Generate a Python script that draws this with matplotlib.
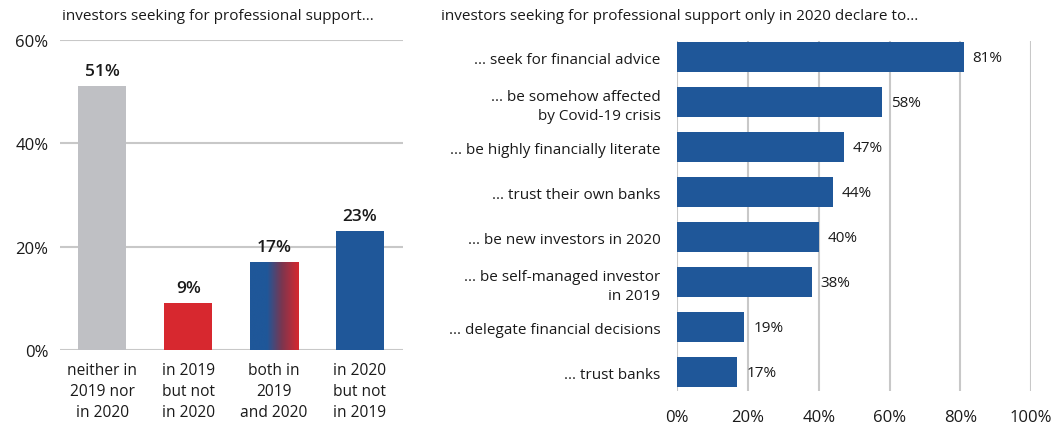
import numpy as np
import matplotlib.pyplot as plt
from matplotlib.colors import LinearSegmentedColormap

plt.rcParams['font.family'] = ['Open Sans', 'DejaVu Sans']

BLUE = '#1f5799'
RED = '#d7282f'
GREY = '#bfc0c4'
GRID = '#c8c8c8'
TXT = '#1a1a1a'

# left panel data
left_cats = ['neither in\n2019 nor\nin 2020', 'in 2019\nbut not\nin 2020', 'both in\n2019\nand 2020', 'in 2020\nbut not\nin 2019']
left_vals = [51, 9, 17, 23]
left_cols = [GREY, RED, None, BLUE]

# right panel data
right_cats = ['... seek for financial advice', '... be somehow affected\nby Covid-19 crisis',
              '... be highly financially literate', '... trust their own banks',
              '... be new investors in 2020', '... be self-managed investor\nin 2019',
              '... delegate financial decisions', '... trust banks']
right_vals = [81, 58, 47, 44, 40, 38, 19, 17]

fig = plt.figure(figsize=(10.63, 4.27), dpi=100)

# ---- left chart
ax1 = fig.add_axes([0.056, 0.178, 0.323, 0.726])
x = np.arange(len(left_vals))
bars = ax1.bar(x, left_vals, width=0.56, color=[c if c else 'none' for c in left_cols], zorder=3)
# "both" bar: blue fading into red
grad = LinearSegmentedColormap.from_list('g', [(0, BLUE), (0.35, BLUE), (0.65, '#7a3650'), (1, RED)])
b = bars[2]
im = ax1.imshow(np.linspace(0, 1, 256).reshape(1, -1), cmap=grad, aspect='auto',
                extent=[b.get_x(), b.get_x() + b.get_width(), 0, b.get_height()], zorder=3)
im.set_clip_path(b)
for xi, v in zip(x, left_vals):
    ax1.text(xi, v + 1.4, f'{v}%', ha='center', va='bottom', fontsize=12.5, fontweight='semibold', color=TXT)
ax1.set_xlim(-0.5, 3.5)
ax1.set_ylim(0, 60)
ax1.set_yticks([0, 20, 40, 60])
ax1.set_yticklabels(['0%', '20%', '40%', '60%'], fontsize=12, color=TXT)
ax1.set_xticks(x)
ax1.set_xticklabels(left_cats, fontsize=11.2, color=TXT, linespacing=1.4)
ax1.yaxis.grid(True, color=GRID, lw=1.5, zorder=0)
ax1.tick_params(length=0, pad=8)
ax1.tick_params(axis='x', pad=9)
for s in ax1.spines.values():
    s.set_visible(False)
fig.text(62 / 1063, 1 - 16 / 427, 'investors seeking for professional support...',
         fontsize=11, color=TXT, ha='left', va='center')

# ---- right chart
ax2 = fig.add_axes([0.637, 0.082, 0.333, 0.82])
y = np.arange(len(right_vals))
ax2.barh(y, right_vals, height=0.67, color=BLUE, zorder=3)
for yi, v in zip(y, right_vals):
    ax2.text(v + 2.5, yi, f'{v}%', ha='left', va='center', fontsize=11, color=TXT)
ax2.set_xlim(0, 100)
ax2.set_ylim(7.42, -0.36)
ax2.set_xticks([0, 20, 40, 60, 80, 100])
ax2.set_xticklabels(['0%', '20%', '40%', '60%', '80%', '100%'], fontsize=12, color=TXT)
ax2.set_yticks(y)
ax2.set_yticklabels(right_cats, fontsize=11, color=TXT, linespacing=1.35)
ax2.xaxis.grid(True, color=GRID, lw=1.5, zorder=0)
ax2.tick_params(length=0)
ax2.tick_params(axis='x', pad=13)
ax2.tick_params(axis='y', pad=12)
for s in ax2.spines.values():
    s.set_visible(False)
fig.text(441 / 1063, 1 - 16 / 427, 'investors seeking for professional support only in 2020 declare to...',
         fontsize=11, color=TXT, ha='left', va='center')

fig.savefig('out.png', dpi=100, facecolor='white')
